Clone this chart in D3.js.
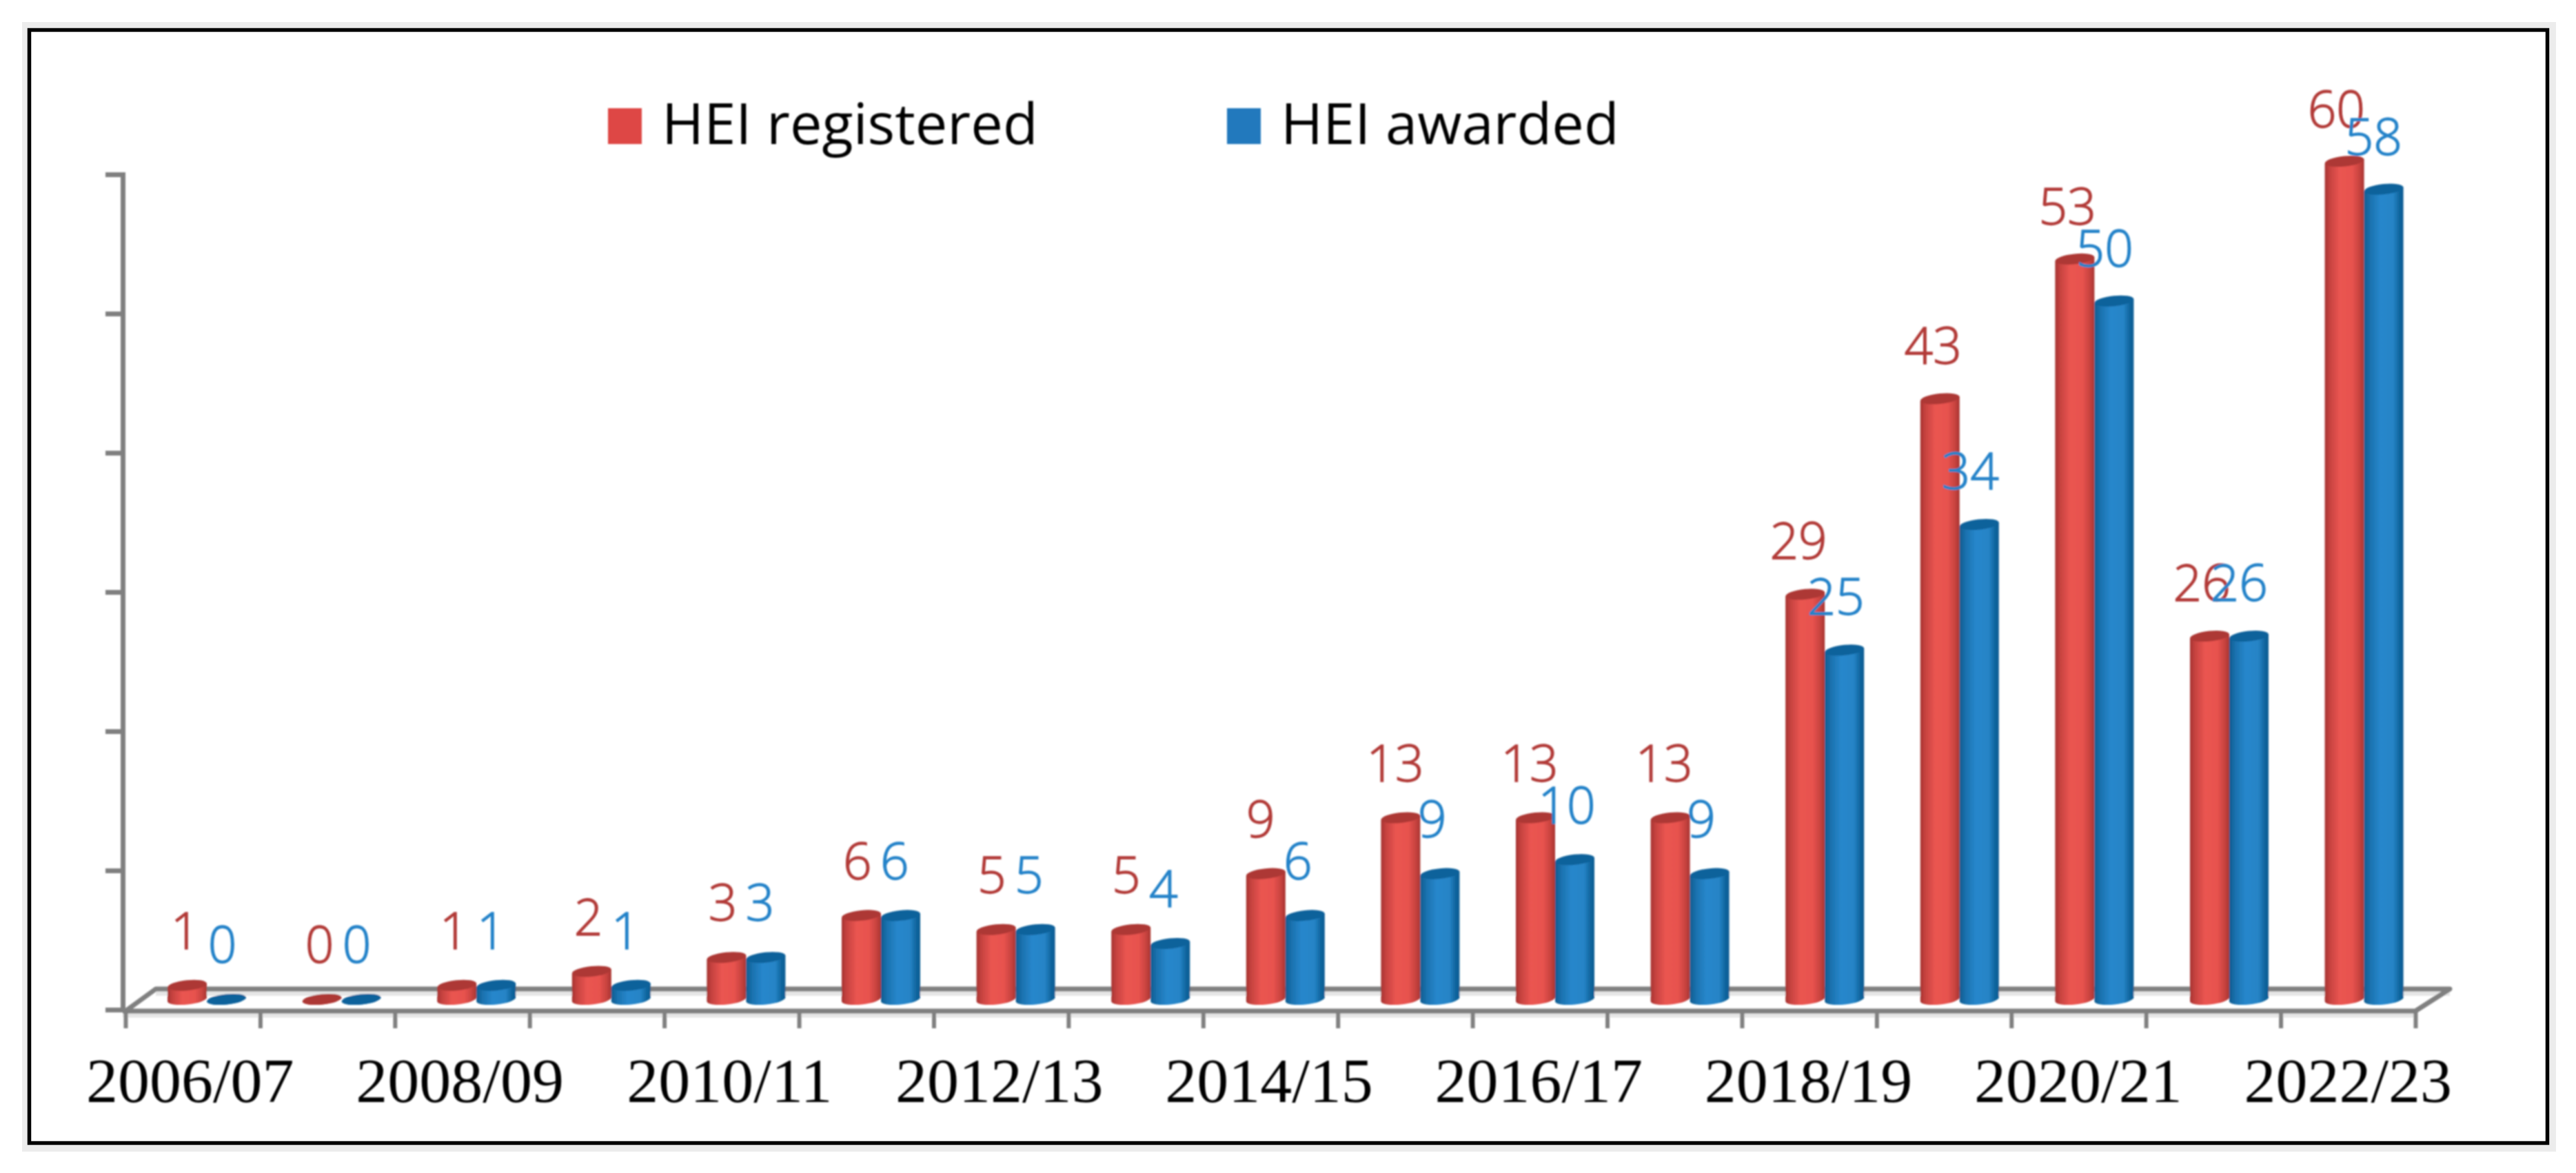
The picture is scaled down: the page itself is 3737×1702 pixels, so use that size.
<!DOCTYPE html>
<html>
<head>
<meta charset="utf-8">
<title>HEI registered and awarded</title>
<script src="https://cdn.jsdelivr.net/npm/d3@7/dist/d3.min.js"></script>
<style>
html, body { margin: 0; padding: 0; background: #fff; }
svg { display: block; }
.value-label { font-family: "Open Sans", sans-serif; font-size: 73px; font-weight: 300; text-anchor: middle; stroke-width: 1.3px; }
.legend-label { font-family: "Open Sans", sans-serif; font-size: 83px; fill: #000; }
.year-axis text { font-family: "Liberation Serif", serif; font-size: 92px; fill: #000; }
.axis path, .axis line { stroke: #808080; fill: none; }
</style>
</head>
<body>
<div id="chart-area"></div>
<script>
var years = ["2006/07", "2007/08", "2008/09", "2009/10", "2010/11", "2011/12", "2012/13", "2013/14", "2014/15",
	"2015/16", "2016/17", "2017/18", "2018/19", "2019/20", "2020/21", "2021/22", "2022/23"];
var registered = [1, 0, 1, 2, 3, 6, 5, 5, 9, 13, 13, 13, 29, 43, 53, 26, 60];
var awarded = [0, 0, 1, 1, 3, 6, 5, 4, 6, 9, 10, 9, 25, 34, 50, 26, 58];
var yTicks = [0, 10, 20, 30, 40, 50, 60];
var seriesNames = ["HEI registered", "HEI awarded"];

var width = 3737,
	height = 1702;

var svg = d3.select("#chart-area").append("svg")
	.attr("width", width)
	.attr("height", height);

// grey band and black frame round the figure
svg.append("rect").attr("x", 32).attr("y", 32).attr("width", 3676).attr("height", 1639).attr("fill", "#ececec");
svg.append("rect").attr("x", 42.5).attr("y", 43.5).attr("width", 3653).attr("height", 1615)
	.attr("fill", "#fff").attr("stroke", "#000").attr("stroke-width", 5.5);

var defs = svg.append("defs");

defs.append("filter").attr("id", "soft")
	.attr("x", "-5%").attr("y", "-5%").attr("width", "110%").attr("height", "110%")
	.append("feGaussianBlur").attr("stdDeviation", 1.1);

function addGradient(id, stops) {
	var grad = defs.append("linearGradient").attr("id", id);
	stops.forEach(function(s) {
		grad.append("stop").attr("offset", s[0]).attr("stop-color", s[1]);
	});
}
addGradient("red-bar", [[0, "#a53331"], [0.12, "#c5423f"], [0.38, "#ea5551"], [0.7, "#e7524e"], [0.88, "#c8433f"], [1, "#a83532"]]);
addGradient("blue-bar", [[0, "#0e5b8f"], [0.16, "#1b72af"], [0.42, "#2787cc"], [0.74, "#2584c6"], [0.9, "#10659e"], [1, "#0d5c92"]]);

var chart = svg.append("g").attr("filter", "url(#soft)");

// scales
var yScale = d3.scaleLinear().domain([0, 60]).range([1465, 253]);
var barY = d3.scaleLinear().domain([0, 60]).range([1450, 234]);		// bars stand behind the axis plane
var edgeScale = d3.scaleLinear().domain([0, years.length]).range([182, 3504]);
var bandScale = d3.scaleBand().domain(years).range([178, 3504]);
var barScale = d3.scaleBand().domain(years).range([243, 243 + 17 * 195.6]);
var labelScale = d3.scaleBand().domain(years).range([240, 240 + 17 * 195.05]);

var barWidth = 57,
	floorDepth = 32,
	floorSkew = 48,
	ry = 7.5,
	tilt = 3;		// ends of the ellipses are not level

// floor
var floorY = yScale(0) + 2;
var floor = chart.append("g").attr("class", "axis");
floor.append("line").attr("x1", 226).attr("x2", 3554).attr("y1", floorY - floorDepth + 6).attr("y2", floorY - floorDepth + 6)
	.style("stroke", "#e6e6e6").attr("stroke-width", 8);
floor.append("line").attr("x1", 178).attr("x2", 3504).attr("y1", floorY + 6).attr("y2", floorY + 6)
	.style("stroke", "#e6e6e6").attr("stroke-width", 7);
floor.append("path")
	.attr("d", "M" + edgeScale(0) + "," + floorY + "L" + (edgeScale(0) + floorSkew - 4) + "," + (floorY - floorDepth) +
		"H" + (edgeScale(17) + floorSkew + 2) + "L" + edgeScale(17) + "," + floorY + "H178")
	.attr("stroke-width", 7)
	.attr("stroke-linejoin", "round");

// axes
chart.append("g").attr("class", "axis")
	.attr("transform", "translate(178,0)")
	.call(d3.axisLeft(yScale).tickValues(yTicks).tickFormat("").tickSize(25))
	.selectAll("path, line").attr("stroke-width", 7);

chart.append("g").attr("class", "axis")
	.attr("transform", "translate(0," + floorY + ")")
	.call(d3.axisBottom(edgeScale).tickValues(d3.range(years.length + 1)).tickFormat("").tickSize(25).tickSizeOuter(0))
	.call(function(g) { g.select(".domain").remove(); })
	.selectAll("line").attr("stroke-width", 6);

chart.append("g").attr("class", "year-axis")
	.attr("transform", "translate(0,1599)")
	.call(d3.axisBottom(bandScale).tickSize(0).tickPadding(0)
		.tickFormat(function(d, i) { return i % 2 == 0 ? d : ""; }))
	.call(function(g) { g.select(".domain").remove(); })
	.selectAll("text")
	.attr("y", 0)
	.attr("dy", 0);

// cylinders
function cylinderPath(x0, v) {
	var x1 = x0 + barWidth,
		rx = barWidth / 2,
		top = barY(v),
		base = barY(0);
	return "M" + x0 + "," + (top + tilt) +
		"L" + x0 + "," + (base + tilt) +
		"A" + rx + "," + ry + " -6 0 0 " + x1 + "," + (base - tilt) +
		"L" + x1 + "," + (top - tilt) + "Z";
}

function drawBars(values, offset, gradient, topColor) {
	var bars = chart.append("g").selectAll("g")
		.data(values)
		.enter().append("g");

	bars.append("path")
		.attr("d", function(d, i) { return cylinderPath(barScale(years[i]) + offset, d); })
		.attr("fill", "url(#" + gradient + ")");

	bars.append("ellipse")
		.attr("rx", barWidth / 2)
		.attr("ry", ry)
		.attr("fill", topColor)
		.attr("transform", function(d, i) {
			return "translate(" + (barScale(years[i]) + offset + barWidth / 2) + "," + barY(d) + ") rotate(-6)";
		});
}

drawBars(registered, 0, "red-bar", "#ad3835");
drawBars(awarded, barWidth, "blue-bar", "#0f629b");

// value labels come after all the bars, they overlap them in places
function drawLabels(values, offset, color) {
	chart.append("g").selectAll("text")
		.data(values)
		.enter().append("text")
		.attr("class", "value-label")
		.attr("x", function(d, i) { return labelScale(years[i]) + offset; })
		.attr("y", function(d) { return yScale(d) - 68; })
		.attr("fill", color)
		.attr("stroke", color)
		.text(function(d) { return d; });
}

drawLabels(registered, 28.5, "#b23b39");
drawLabels(awarded, 82.5, "#2583c9");

// legend
var legendX = d3.scaleOrdinal().domain(seriesNames).range([882, 1780]);
var legendColor = d3.scaleOrdinal().domain(seriesNames).range(["#de4644", "#2079bd"]);

var legend = chart.append("g").selectAll("g")
	.data(seriesNames)
	.enter().append("g")
	.attr("transform", function(d) { return "translate(" + legendX(d) + ",157)"; });

legend.append("rect")
	.attr("width", 49)
	.attr("height", 52)
	.attr("fill", function(d) { return legendColor(d); });

legend.append("text")
	.attr("class", "legend-label")
	.attr("x", 78)
	.attr("y", 52)
	.text(function(d) { return d; });
</script>
</body>
</html>
